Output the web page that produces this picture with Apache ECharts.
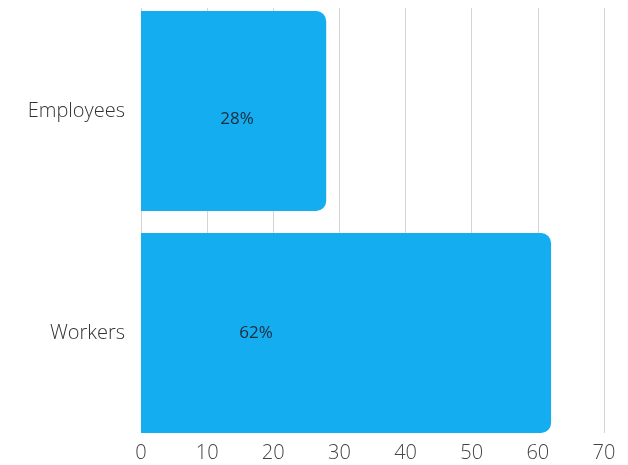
<!DOCTYPE html>
<html>
<head>
<meta charset="utf-8">
<script src="https://cdn.jsdelivr.net/npm/echarts@6/dist/echarts.min.js"></script>
<style>
  html, body { margin: 0; padding: 0; background: #fff; }
  #chart { width: 628px; height: 465px; }
</style>
</head>
<body>
<div id="chart"></div>
<script>
// data
var categories = ['Employees', 'Workers'];
var values = [28, 62];
var labels = ['28%', '62%'];
var xTicks = [0, 10, 20, 30, 40, 50, 60, 70];

var myChart = echarts.init(document.getElementById('chart'));

// label position inside each bar (px from bar's top-left corner)
var labelPos = [[96, 108], [115, 100]];
var font = '"Open Sans", "Noto Sans", sans-serif';

var option = {
  animation: false,
  grid: [
    // bars
    { left: 141, right: 24, top: -4, bottom: 21 },
    // grid lines + ticks
    { left: 141, right: 24, top: 8, bottom: 32 }
  ],
  xAxis: [{
    gridIndex: 0,
    type: 'value',
    min: xTicks[0],
    max: xTicks[xTicks.length - 1],
    interval: 10,
    show: false
  }, {
    gridIndex: 1,
    type: 'value',
    min: xTicks[0],
    max: xTicks[xTicks.length - 1],
    interval: 10,
    axisLine: { show: false },
    axisTick: { show: false },
    axisLabel: {
      margin: 10,
      fontSize: 20,
      fontWeight: 300,
      color: '#444',
      fontFamily: font
    },
    splitLine: { show: true, lineStyle: { color: '#d4d4d4', width: 1 } }
  }],
  yAxis: [{
    gridIndex: 0,
    type: 'category',
    inverse: true,
    data: categories,
    axisLine: { show: false },
    axisTick: { show: false },
    axisLabel: {
      margin: 16,
      fontSize: 20,
      fontWeight: 300,
      color: '#333',
      fontFamily: font,
      padding: [0, 0, 4, 0]
    }
  }, {
    gridIndex: 1,
    type: 'value',
    min: 0,
    max: 1,
    show: false
  }],
  series: [{
    type: 'bar',
    xAxisIndex: 0,
    yAxisIndex: 0,
    barCategoryGap: '10%',
    z: 3,
    itemStyle: { color: '#14adf0', borderRadius: [0, 10, 10, 0] },
    data: values.map(function(v, i) {
      return {
        value: v,
        label: {
          show: true,
          position: labelPos[i],
          align: 'center',
          verticalAlign: 'middle',
          formatter: labels[i],
          fontSize: 17,
          color: '#1b2b3a',
          fontFamily: font
        }
      };
    })
  }]
};

myChart.setOption(option);
</script>
</body>
</html>
